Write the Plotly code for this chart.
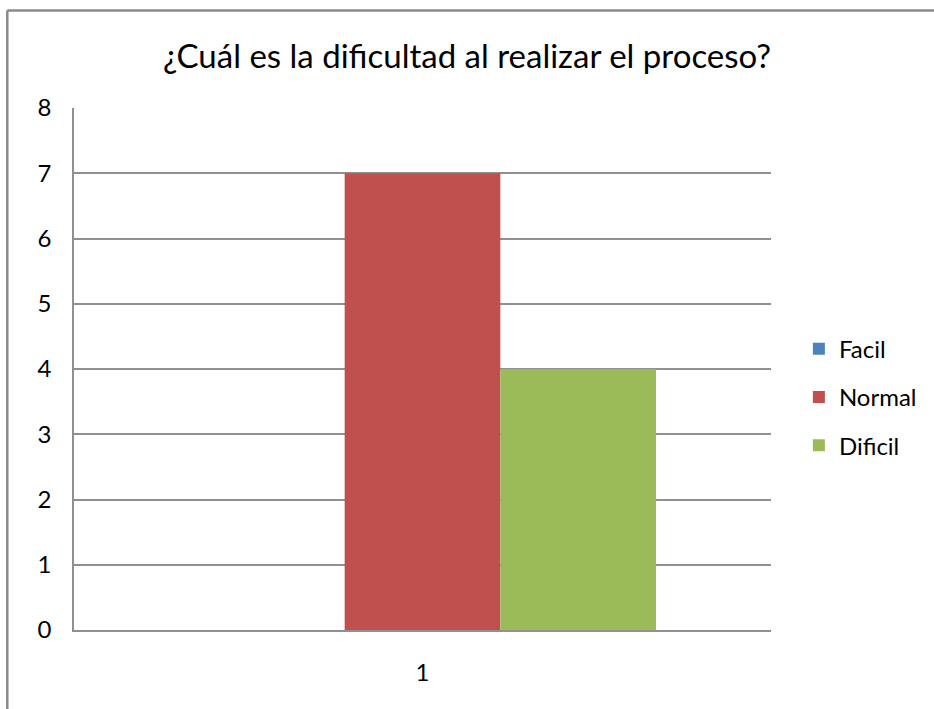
import plotly.graph_objects as go

categories = ["1"]
series_names = ["Facil", "Normal", "Dificil"]
series_values = [[0], [7], [4]]
colors = ["#4F81BD", "#C0504D", "#9BBB59"]
title_text = "¿Cuál es la dificultad al realizar el proceso?"
y_ticks = [0, 1, 2, 3, 4, 5, 6, 7, 8]

W, H = 934, 709
L, R, T, B = 74, 774, 107.5, 630

fig = go.Figure()
for name, vals, col in zip(series_names, series_values, colors):
    fig.add_trace(go.Bar(x=categories, y=vals, name=name, marker=dict(color=col, line=dict(width=0)),
                         legendgroup=name))

pw = R - L
ph = B - T
def px_to_paper_x(px):
    return (px - L) / pw
def px_to_paper_y(py):
    return (B - py) / ph

font = "Lato, 'Open Sans', sans-serif"
fig.update_layout(
    width=W, height=H,
    margin=dict(l=L, r=W - R, t=T, b=H - B, pad=0),
    paper_bgcolor="white", plot_bgcolor="white",
    font=dict(family=font, color="black", size=20),
    title=dict(text=title_text, x=0.5, xref="container", xanchor="center",
               y=1 - 56 / H, yref="container", yanchor="middle",
               font=dict(size=33, family=font, color="black")),
    barmode="group", bargap=0.33, bargroupgap=0,
    showlegend=True,
    legend=dict(x=px_to_paper_x(802), xanchor="left", y=px_to_paper_y(397), yanchor="middle",
                traceorder="grouped", tracegroupgap=14, font=dict(size=24, family=font),
                itemwidth=30, bgcolor="rgba(0,0,0,0)"),
    xaxis=dict(type="category", showgrid=False, showline=True, linecolor="#909090", linewidth=2,
               ticks="", ticklabelstandoff=20, tickfont=dict(size=24, family=font)),
    yaxis=dict(range=[0, 8], tickvals=y_ticks, showgrid=True, gridcolor="#909090", gridwidth=1.5,
               showline=True, linecolor="#909090", linewidth=1.5, zeroline=False,
               ticks="", ticklabelstandoff=16, tickfont=dict(size=24, family=font)),
    shapes=[
        dict(type="line", xref="paper", yref="paper",
             x0=px_to_paper_x(7), x1=px_to_paper_x(7), y0=px_to_paper_y(720), y1=px_to_paper_y(10),
             line=dict(color="#8a8a8a", width=2.5)),
        dict(type="line", xref="paper", yref="paper",
             x0=px_to_paper_x(7), x1=px_to_paper_x(950), y0=px_to_paper_y(10), y1=px_to_paper_y(10),
             line=dict(color="#8a8a8a", width=2.5)),
    ],
)

fig.write_html("out.html", config={"displayModeBar": False},
               post_script="document.body.style.margin='0';")
